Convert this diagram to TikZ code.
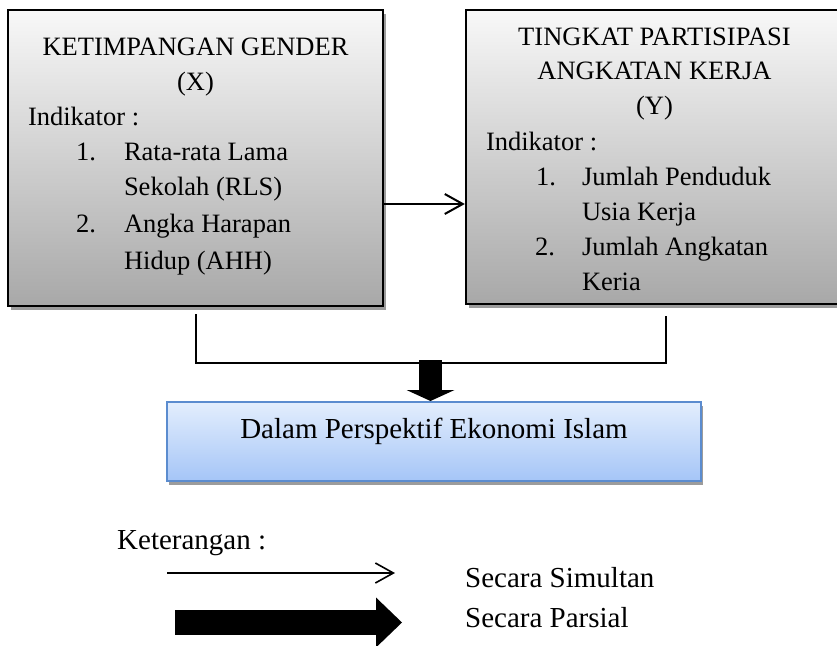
\documentclass[tikz,border=0pt]{standalone}
\usepackage{fontspec}
\setmainfont{Liberation Serif}
\usetikzlibrary{positioning,arrows.meta,calc,shadows}

\definecolor{boxtop}{HTML}{F8F8F8}
\definecolor{boxbot}{HTML}{A8A8A8}
\definecolor{shadegray}{HTML}{9C9C9C}
\definecolor{islamtop}{HTML}{E3EEFD}
\definecolor{islambot}{HTML}{A5C5F7}
\definecolor{islamedge}{HTML}{5B8CCF}

\begin{document}
\begin{tikzpicture}[
    x=1pt, y=-1pt,
    varbox/.style={draw, line width=2.4pt, top color=boxtop, bottom color=boxbot,
                   inner sep=0pt,
                   drop shadow={shadow xshift=3pt, shadow yshift=-4pt,
                                fill=shadegray, opacity=1}},
    islambox/.style={draw=islamedge, line width=2pt, top color=islamtop,
                     bottom color=islambot, inner sep=0pt,
                     minimum width=534pt, minimum height=79pt,
                     drop shadow={shadow xshift=2pt, shadow yshift=-4pt,
                                  fill=shadegray, opacity=1}},
    boxtxt/.style={anchor=base west, inner sep=0pt,
                   font=\fontsize{26.5}{32}\selectfont},
    boxttl/.style={boxtxt, anchor=base},
    legtxt/.style={anchor=base west, inner sep=0pt,
                   font=\fontsize{29}{34}\selectfont},
    link/.style={line width=2pt},
    simul/.style={line width=2pt, -{Straight Barb[length=18pt,width=20pt]}},
    bigarrow/.style={line width=23pt,
                     -{Triangle[length=11pt,width=48pt,line width=0pt]}},
  ]
  \useasboundingbox (0,0) rectangle (837,645);

  % --- variable X (left) ---
  \node[varbox, minimum width=375pt, minimum height=296pt] (ketimpangan)
    at (195.5,158) {};
  \node[boxttl] (kgTitle) at ($(ketimpangan.north)+(0,47)$) {KETIMPANGAN GENDER};
  \node[boxttl] (kgVar) at ($(ketimpangan.north)+(0,82)$) {(X)};
  \node[boxtxt] (kgInd) at ($(ketimpangan.north west)+(21,117)$) {Indikator :};
  \node[boxtxt] (kgNumA) at ($(ketimpangan.north west)+(69,152)$) {1.};
  \node[boxtxt] (kgItemA) at ($(ketimpangan.north west)+(117,152)$) {Rata-rata Lama};
  \node[boxtxt] (kgItemAb) at ($(ketimpangan.north west)+(117,187)$) {Sekolah (RLS)};
  \node[boxtxt] (kgNumB) at ($(ketimpangan.north west)+(69,224)$) {2.};
  \node[boxtxt] (kgItemB) at ($(ketimpangan.north west)+(117,224)$) {Angka Harapan};
  \node[boxtxt] (kgItemBb) at ($(ketimpangan.north west)+(117,261)$) {Hidup (AHH)};

  % --- variable Y (right) ---
  \node[varbox, minimum width=377pt, minimum height=294pt] (tpak)
    at (654.5,157) {};
  \node[boxttl] (tpTitle) at ($(tpak.north)+(0,37)$) {TINGKAT PARTISIPASI};
  \node[boxttl] (tpTitleb) at ($(tpak.north)+(0,71)$) {ANGKATAN KERJA};
  \node[boxttl] (tpVar) at ($(tpak.north)+(0,106)$) {(Y)};
  \node[boxtxt] (tpInd) at ($(tpak.north west)+(21,141.5)$) {Indikator :};
  \node[boxtxt] (tpNumA) at ($(tpak.north west)+(71,176.5)$) {1.};
  \node[boxtxt] (tpItemA) at ($(tpak.north west)+(117,176.5)$) {Jumlah Penduduk};
  \node[boxtxt] (tpItemAb) at ($(tpak.north west)+(117,211.5)$) {Usia Kerja};
  \node[boxtxt] (tpNumB) at ($(tpak.north west)+(70,246.5)$) {2.};
  \node[boxtxt] (tpItemB) at ($(tpak.north west)+(117,246.5)$) {Jumlah Angkatan};
  \node[boxtxt] (tpItemBb) at ($(tpak.north west)+(117,281.5)$) {Keria};

  % X -> Y
  \draw[simul] ([yshift=-46pt]ketimpangan.east) -- ([yshift=-47pt]tpak.west);

  % --- perspective box ---
  \node[islambox] (perspektif) at (434,441.5) {};
  \node[legtxt, anchor=base] (perspektifTxt) at ($(perspektif.north)+(0,37)$)
    {Dalam Perspektif Ekonomi Islam};

  % bracket and joint arrow
  \coordinate (join) at (430.5,363);
  \draw[link] ([yshift=-7pt]ketimpangan.south) |- (join)
    -| ([xshift=11.5pt,yshift=-11pt]tpak.south);
  \draw[bigarrow] ([yshift=3pt]join) -- (join |- perspektif.north);

  % --- legend ---
  \node[legtxt] (keterangan) at (117,549) {Keterangan :};
  \coordinate (simA) at (167,573);
  \coordinate (simB) at (395,573);
  \draw[simul, line width=1.6pt] (simA) -- (simB);
  \node[legtxt] (simultan) at (465,587) {Secara Simultan};
  \coordinate (parA) at (175,622.5);
  \coordinate (parB) at (402,622.5);
  \draw[line width=25pt, -{Triangle[length=26pt,width=50pt,line width=0pt]}]
    (parA) -- (parB);
  \node[legtxt] (parsial) at (465,627) {Secara Parsial};
\end{tikzpicture}
\end{document}
